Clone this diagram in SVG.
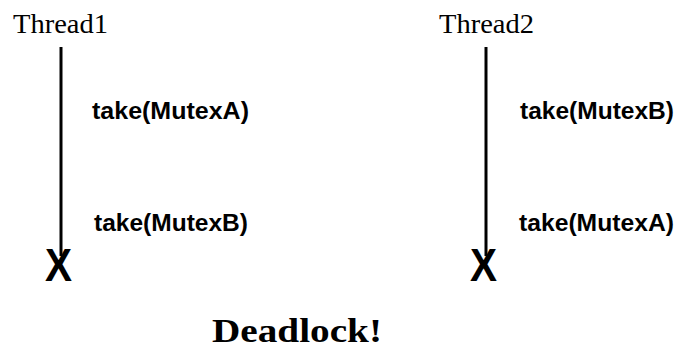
<svg xmlns="http://www.w3.org/2000/svg" width="677" height="349" viewBox="0 0 677 349">
<style>
.title{font-family:"Liberation Serif",serif;font-size:27px;fill:#000}
.op{font-family:"Liberation Sans",sans-serif;font-weight:bold;font-size:24px;fill:#000}
.x{font-family:"Liberation Sans",sans-serif;font-weight:bold;font-size:47px;fill:#000}
.life{stroke:#000;stroke-width:3;fill:none}
.dl{font-family:"Liberation Serif",serif;font-weight:bold;font-size:34px;fill:#000}
</style>
<rect width="677" height="349" fill="#fff"/>
<g id="connectors">
<line class="life" x1="61" y1="47" x2="61" y2="256"/>
<line class="life" x1="486" y1="47" x2="486" y2="256"/>
</g>
<g id="thread1">
<text class="title" x="13" y="33" textLength="95" lengthAdjust="spacingAndGlyphs">Thread1</text>
<text class="op" x="92" y="119" textLength="157" lengthAdjust="spacingAndGlyphs">take(MutexA)</text>
<text class="op" x="94" y="231" textLength="154" lengthAdjust="spacingAndGlyphs">take(MutexB)</text>
<text class="x" x="45" y="281" textLength="27" lengthAdjust="spacingAndGlyphs">X</text>
</g>
<g id="thread2">
<text class="title" x="439" y="33" textLength="95" lengthAdjust="spacingAndGlyphs">Thread2</text>
<text class="op" x="520" y="119" textLength="154" lengthAdjust="spacingAndGlyphs">take(MutexB)</text>
<text class="op" x="519" y="231" textLength="155" lengthAdjust="spacingAndGlyphs">take(MutexA)</text>
<text class="x" x="470" y="281" textLength="27" lengthAdjust="spacingAndGlyphs">X</text>
</g>
<g id="deadlock">
<text class="dl" x="212" y="342" textLength="170" lengthAdjust="spacingAndGlyphs">Deadlock!</text>
</g>
</svg>
